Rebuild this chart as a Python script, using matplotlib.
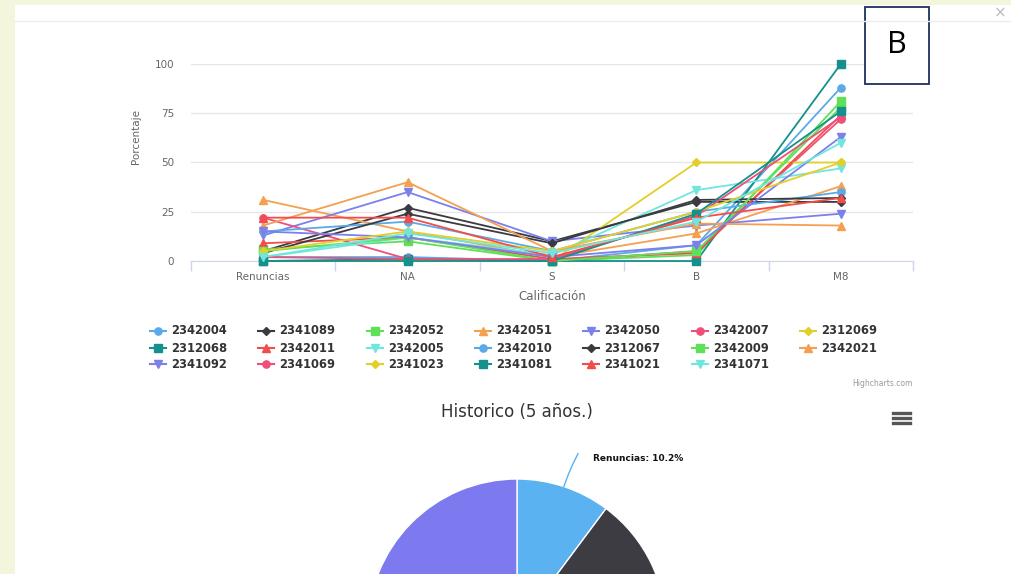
import numpy as np
import matplotlib.pyplot as plt
from matplotlib.lines import Line2D
from matplotlib.patches import Rectangle

W, H = 1011, 574

# categories and series (percent per category)
categorias = ["Renuncias", "NA", "S", "B", "M8"]
nombres = ["2342004", "2341089", "2342052", "2342051", "2342050", "2342007", "2312069",
           "2312068", "2342011", "2342005", "2342010", "2312067", "2342009", "2342021",
           "2341092", "2341069", "2341023", "2341081", "2341021", "2341071"]
valores = [
    [2, 2, 0, 8, 88],
    [5, 27, 10, 30, 30],
    [6, 10, 0, 3, 81],
    [31, 15, 2, 14, 38],
    [13, 35, 10, 18, 24],
    [22, 1, 0, 5, 72],
    [0, 0, 0, 50, 50],
    [0, 1, 0, 0, 100],
    [9, 12, 1, 4, 74],
    [2, 12, 3, 36, 47],
    [15, 20, 5, 25, 35],
    [4, 24, 9, 31, 32],
    [5, 12, 0, 5, 78],
    [18, 40, 5, 19, 18],
    [15, 12, 2, 8, 63],
    [2, 1, 1, 23, 73],
    [5, 15, 5, 25, 50],
    [0, 0, 0, 24, 76],
    [22, 22, 2, 22, 32],
    [2, 14, 4, 20, 60],
]

# pie "Historico (5 años.)"
pie_labels = ["Renuncias", "NA", "S", "B", "M8"]
pie_values = [10.2, 15.5, 3.6, 20.1, 50.6]

colores = ["#5aaaea", "#3a3a40", "#5fe05a", "#f4a050", "#7b80ec",
           "#ef4f78", "#e2cf2a", "#15908c", "#f24c4c", "#6fe6de"]
marcadores = ["o", "D", "s", "^", "v"]
pie_colores = ["#5ab2f0", "#3c3c42", "#90ed7d", "#f7a35c", "#7d7af0"]


def fx(px):
    return px / W


def fy(py):
    return 1 - py / H


fig = plt.figure(figsize=(W / 100, H / 100), dpi=100)
fig.patch.set_facecolor("#f3f5dc")
fig.add_artist(Rectangle((fx(15), 0), 1 - fx(15), fy(5), transform=fig.transFigure,
                         facecolor="white", edgecolor="none", zorder=0))
fig.add_artist(Line2D([fx(15), 1], [fy(21), fy(21)], color="#ededed", lw=1))
fig.text(fx(1000), fy(13), "×", color="#bbbbbb", fontsize=11, ha="center", va="center")

# line chart
ax = fig.add_axes([fx(191), fy(261), (913 - 191) / W, 197 / H])
x = np.arange(len(categorias))
for i, (nom, vals) in enumerate(zip(nombres, valores)):
    c = colores[i % len(colores)]
    m = marcadores[i % len(marcadores)]
    ms = 4.3 if m == "D" else 5.2
    ax.plot(x, vals, color=c, lw=1.3, marker=m, ms=ms, clip_on=False, zorder=3)

ax.set_xlim(-0.5, len(categorias) - 0.5)
ax.set_ylim(0, 100)
ax.set_yticks([0, 25, 50, 75, 100])
ax.grid(axis="y", color="#e6e6e6", lw=1)
ax.set_axisbelow(True)
for s in ["top", "right", "left"]:
    ax.spines[s].set_visible(False)
ax.spines["bottom"].set_color("#ccd6eb")
ax.spines["bottom"].set_zorder(1)
ax.set_xticks(x)
ax.set_xticklabels(categorias)
ax.set_xticks(np.arange(-0.5, len(categorias)), minor=True)
ax.tick_params(axis="x", which="major", length=0, pad=8, labelsize=7.5, labelcolor="#666666")
ax.tick_params(axis="x", which="minor", length=7, color="#ccd6eb", width=1)
ax.tick_params(axis="y", length=0, pad=12, labelsize=7.5, labelcolor="#666666")
ax.set_facecolor("none")

fig.text(fx(136), fy(137), "Porcentaje", rotation=90, fontsize=7.5, color="#666666",
         ha="center", va="center")
fig.text(fx(552), fy(296), "Calificación", fontsize=8.5, color="#666666",
         ha="center", va="center")

# legend, laid out row by row like Highcharts
col_x = [150, 258, 367, 475, 583, 692, 800]
row_y = [331, 348, 364]
for i, nom in enumerate(nombres):
    cx = col_x[i % 7]
    cy = row_y[i // 7]
    c = colores[i % len(colores)]
    m = marcadores[i % len(marcadores)]
    fig.add_artist(Line2D([fx(cx), fx(cx + 16)], [fy(cy), fy(cy)], color=c, lw=1.5))
    fig.add_artist(Line2D([fx(cx + 8)], [fy(cy)], color=c, marker=m,
                          ms=4.2 if m == "D" else 5.2))
    fig.text(fx(cx + 21), fy(cy), nom, fontsize=8.3, fontweight="bold", color="#333333",
             ha="left", va="center")

fig.text(fx(913), fy(384), "Highcharts.com", fontsize=5.5, color="#999999",
         ha="right", va="center")

# pie chart (only its top is visible)
fig.text(fx(517), fy(412), "Historico (5 años.)", fontsize=12, color="#333333",
         ha="center", va="center")
for dy in (-5, 0, 5):
    fig.add_artist(Line2D([fx(893), fx(910)], [fy(418 + dy), fy(418 + dy)],
                          color="#555555", lw=2.4))

r = 149
pax = fig.add_axes([fx(517 - r), fy(628 + r), 2 * r / W, 2 * r / H])
pax.pie(pie_values, colors=pie_colores, startangle=90, counterclock=False,
        wedgeprops=dict(edgecolor="white", linewidth=1))
pax.set_xlim(-1, 1)
pax.set_ylim(-1, 1)
pax.set_aspect("auto")
pax.axis("off")

tot = sum(pie_values)
ang = np.deg2rad(90 - pie_values[0] / tot * 360 / 2)
ex, ey = np.cos(ang), np.sin(ang)
t = np.linspace(0, 1, 20)
cxs = (1 - t) ** 2 * ex + 2 * (1 - t) * t * (ex * 1.12) + t ** 2 * 0.41
cys = (1 - t) ** 2 * ey + 2 * (1 - t) * t * (ey * 1.12) + t ** 2 * 1.17
pax.plot(cxs, cys, color=pie_colores[0], lw=1, clip_on=False)
pax.text(0.51, 1.14, f"{pie_labels[0]}: {pie_values[0] / tot * 100:.1f}%", fontsize=6.5,
         fontweight="bold", color="#111111", ha="left", va="center", clip_on=False)

# "B" box
fig.add_artist(Rectangle((fx(865), fy(84)), 64 / W, 77 / H, transform=fig.transFigure,
                         facecolor="white", edgecolor="#1c2f5e", lw=1.3))
fig.text(fx(897), fy(45), "B", fontsize=22, color="black", ha="center", va="center",
         family="Open Sans")

fig.savefig("out.png", dpi=100, facecolor=fig.get_facecolor())
